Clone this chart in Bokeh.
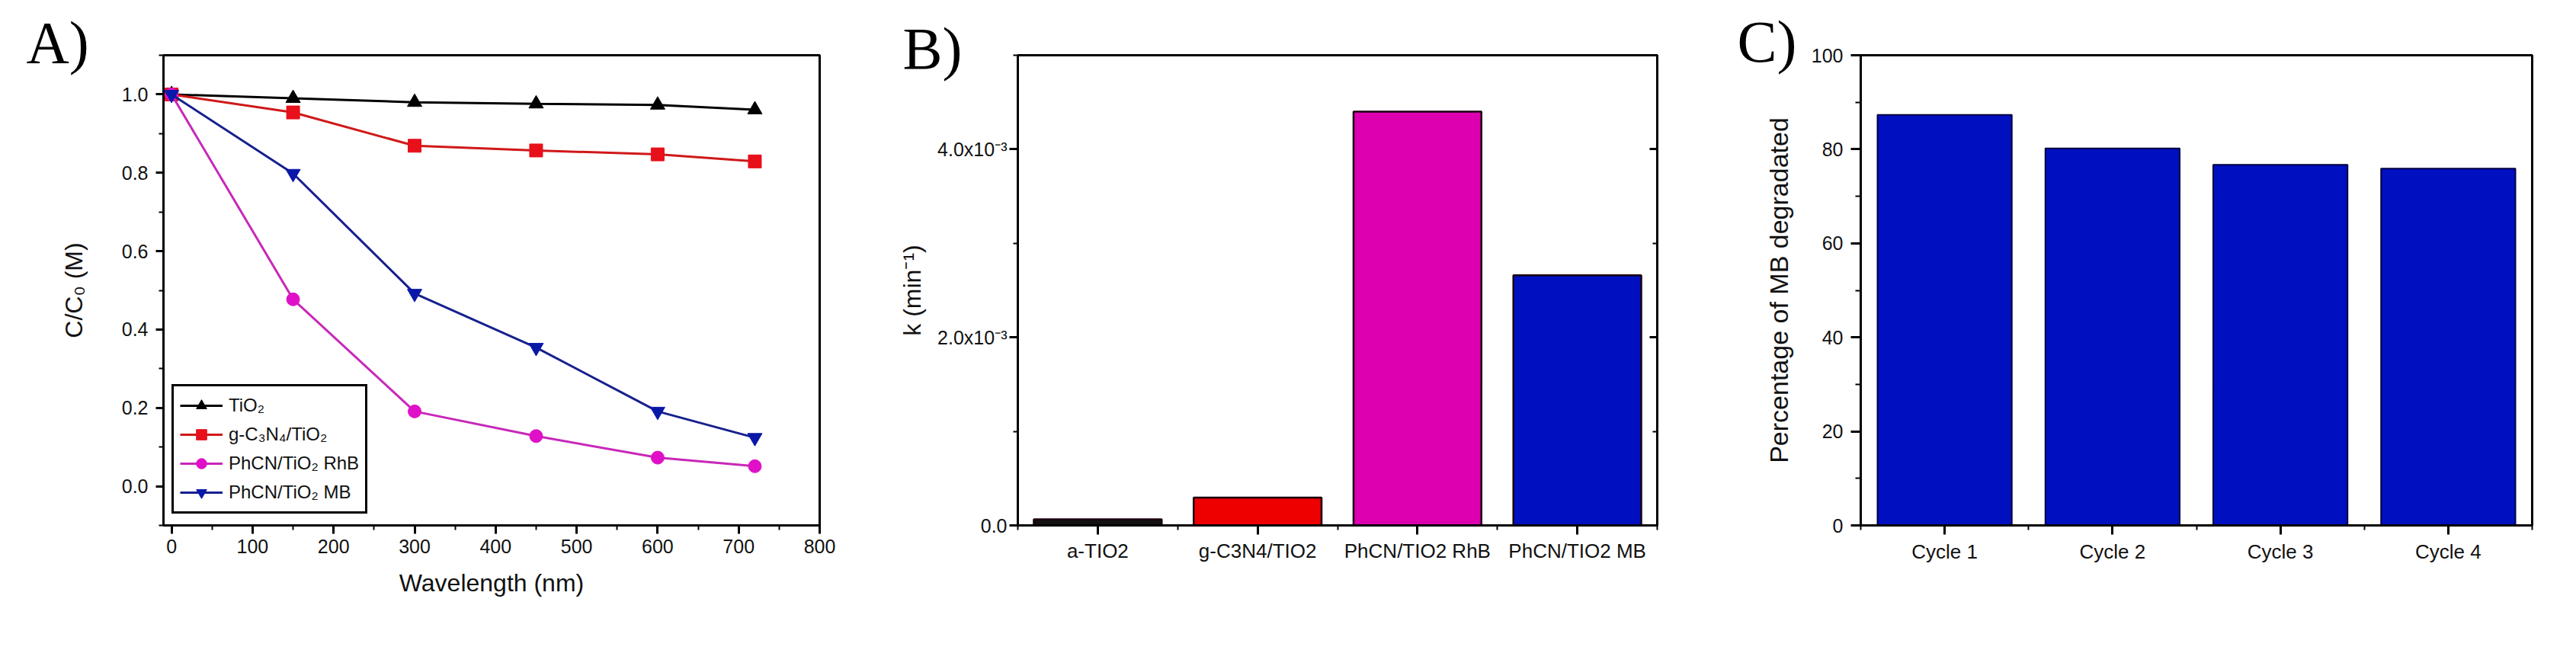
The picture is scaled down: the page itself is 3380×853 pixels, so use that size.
from bokeh.plotting import figure
from bokeh.layouts import row
from bokeh.models import (Range1d, SingleIntervalTicker, FixedTicker, LinearAxis,
                          PrintfTickFormatter)
from bokeh.embed import file_html
from bokeh.resources import INLINE

# ---------------- Panel A data ----------------
time_pts = [0, 150, 300, 450, 600, 720]
tio2 = [1.0, 0.990, 0.980, 0.976, 0.973, 0.961]
gcn_tio2 = [1.0, 0.954, 0.869, 0.857, 0.847, 0.829]
phcn_rhb = [1.0, 0.477, 0.191, 0.128, 0.073, 0.051]
phcn_mb = [1.0, 0.798, 0.492, 0.354, 0.191, 0.124]
series_labels = ["TiO₂", "g-C₃N₄/TiO₂", "PhCN/TiO₂ RhB", "PhCN/TiO₂ MB"]

# ---------------- Panel B data ----------------
catalysts = ["a-TIO2", "g-C3N4/TIO2", "PhCN/TIO2 RhB", "PhCN/TIO2 MB"]
k_values = [6.5e-5, 2.95e-4, 4.40e-3, 2.66e-3]
k_ticks = [0.0, 0.002, 0.004]
k_minor = [0.001, 0.003, 0.005]
k_tick_labels = ["0.0", "2.0x10⁻³", "4.0x10⁻³"]

# ---------------- Panel C data ----------------
cycles = ["Cycle 1", "Cycle 2", "Cycle 3", "Cycle 4"]
degraded = [87.3, 80.2, 76.7, 75.9]

SANS = "Liberation Sans"
SERIF = "Liberation Serif"


def base_style(p):
    p.grid.visible = False
    p.outline_line_color = "black"
    p.outline_line_width = 3
    p.outline_line_alpha = 1.0
    p.background_fill_color = "white"
    p.border_fill_color = "white"


def style_axis(ax, tick_size, major_out=11, minor_out=6, standoff=8):
    ax.axis_line_color = "black"
    ax.axis_line_width = 3
    ax.major_tick_line_color = "black"
    ax.major_tick_line_width = 3
    ax.minor_tick_line_color = "black"
    ax.minor_tick_line_width = 2
    ax.major_tick_out = major_out
    ax.major_tick_in = 0
    ax.minor_tick_out = minor_out
    ax.minor_tick_in = 0
    ax.major_label_text_font = SANS
    ax.major_label_text_font_size = tick_size
    ax.major_label_text_color = "#111111"
    ax.major_label_standoff = standoff
    ax.axis_label_text_font = SANS
    ax.axis_label_text_font_style = "normal"
    ax.axis_label_text_color = "#111111"


def panel_letter(p, text, offset, standoff):
    t = p.title
    t.text = text
    t.text_font = SERIF
    t.text_font_size = "78px"
    t.text_font_style = "normal"
    t.text_color = "black"
    t.align = "left"
    t.vertical_align = "bottom"
    t.offset = offset
    t.standoff = standoff


# ================= Panel A =================
pA = figure(width=1142, height=837, x_range=Range1d(-10, 800), y_range=Range1d(-0.1, 1.1),
            output_backend="svg", toolbar_location=None,
            min_border_left=214, min_border_right=67, min_border_top=72, min_border_bottom=127)
base_style(pA)
pA.xaxis.ticker = SingleIntervalTicker(interval=100, num_minor_ticks=2)
pA.yaxis.ticker = SingleIntervalTicker(interval=0.2, num_minor_ticks=2)
pA.yaxis.formatter = PrintfTickFormatter(format="%.1f")
style_axis(pA.xaxis[0], "25px", 11, 6, 7)
style_axis(pA.yaxis[0], "25px", 10, 6, 10)
pA.xaxis.axis_label = "Wavelength (nm)"
pA.yaxis.axis_label = "C/C₀ (M)"
pA.xaxis.axis_label_text_font_size = "32px"
pA.yaxis.axis_label_text_font_size = "32px"
pA.xaxis.axis_label_standoff = 18
pA.yaxis.axis_label_standoff = 42

series = [tio2, gcn_tio2, phcn_rhb, phcn_mb]
line_colors = ["#000000", "#D01818", "#C828B8", "#16208E"]
marker_colors = ["#000000", "#E8101A", "#E010C8", "#0A18A8"]
markers = ["triangle", "square", "circle", "inverted_triangle"]
marker_sizes = [19, 17, 17, 19]
for ys, lab, lc, mc, mk, ms in zip(series, series_labels, line_colors, marker_colors,
                                   markers, marker_sizes):
    pA.line(time_pts, ys, line_color=lc, line_width=3, legend_label=lab)
    pA.scatter(time_pts, ys, marker=mk, size=ms, fill_color=mc, line_color=mc,
               legend_label=lab)

lg = pA.legend[0]
lg.location = (11, 15)
lg.border_line_color = "black"
lg.border_line_width = 3
lg.border_line_alpha = 1.0
lg.background_fill_color = "white"
lg.background_fill_alpha = 1.0
lg.label_text_font = SANS
lg.label_text_font_size = "24px"
lg.label_text_color = "#111111"
lg.glyph_width = 56
lg.glyph_height = 34
lg.label_height = 34
lg.spacing = 4
lg.padding = 8
lg.margin = 0
lg.label_standoff = 8

panel_letter(pA, "A)", -180, -52)

# ================= Panel B =================
nB = len(catalysts)
posB = list(range(1, nB + 1))
pB = figure(width=1080, height=837, x_range=Range1d(0.5, nB + 0.5), y_range=Range1d(0, 0.005),
            output_backend="svg", toolbar_location=None,
            min_border_left=193, min_border_right=48, min_border_top=66, min_border_bottom=148)
base_style(pB)
bar_colors_B = ["#111111", "#EE0000", "#DD00B0", "#0010C0"]
pB.vbar(x=posB, top=k_values, bottom=0, width=0.8, fill_color=bar_colors_B,
        line_color="#1a0010", line_width=2.5)
pB.xaxis.ticker = FixedTicker(ticks=posB, minor_ticks=[i + 0.5 for i in range(nB + 1)])
pB.xaxis.major_label_overrides = dict(zip(posB, catalysts))
pB.yaxis.ticker = FixedTicker(ticks=k_ticks, minor_ticks=k_minor)
pB.yaxis.major_label_overrides = dict(zip(k_ticks, k_tick_labels))
style_axis(pB.xaxis[0], "26px", 12, 6, 6)
style_axis(pB.yaxis[0], "25px", 11, 6, 3)
pB.yaxis.axis_label = "k (min⁻¹)"
pB.yaxis.axis_label_text_font_size = "32px"
pB.yaxis.axis_label_standoff = 12

rB = LinearAxis(ticker=FixedTicker(ticks=k_ticks, minor_ticks=k_minor))
rB.major_label_overrides = {t: "" for t in k_ticks}
rB.major_label_text_color = None
rB.major_label_text_font_size = "1px"
rB.axis_line_width = 3
rB.major_tick_in = 10
rB.major_tick_out = 0
rB.minor_tick_in = 6
rB.minor_tick_out = 0
rB.major_tick_line_width = 3
rB.minor_tick_line_width = 2
pB.add_layout(rB, "right")

panel_letter(pB, "B)", -151, -68)

# ================= Panel C =================
nC = len(cycles)
posC = list(range(1, nC + 1))
pC = figure(width=1142, height=837, x_range=Range1d(0.5, nC + 0.5), y_range=Range1d(0, 100),
            output_backend="svg", toolbar_location=None,
            min_border_left=219, min_border_right=42, min_border_top=71, min_border_bottom=111)
base_style(pC)
pC.vbar(x=posC, top=degraded, bottom=0, width=0.8, fill_color="#0010C0",
        line_color="#000040", line_width=2)
pC.xaxis.ticker = FixedTicker(ticks=posC, minor_ticks=[i + 0.5 for i in range(nC + 1)])
pC.xaxis.major_label_overrides = dict(zip(posC, cycles))
pC.yaxis.ticker = SingleIntervalTicker(interval=20, num_minor_ticks=2)
style_axis(pC.xaxis[0], "26px", 12, 6, 7)
style_axis(pC.yaxis[0], "25px", 13, 7, 10)
pC.yaxis.axis_label = "Percentage of MB degradated"
pC.yaxis.axis_label_text_font_size = "34px"
pC.yaxis.axis_label_standoff = 21

panel_letter(pC, "C)", -162, -50)

layout = row(pA, pB, pC)
open("out.html", "w").write(file_html(layout, INLINE))
